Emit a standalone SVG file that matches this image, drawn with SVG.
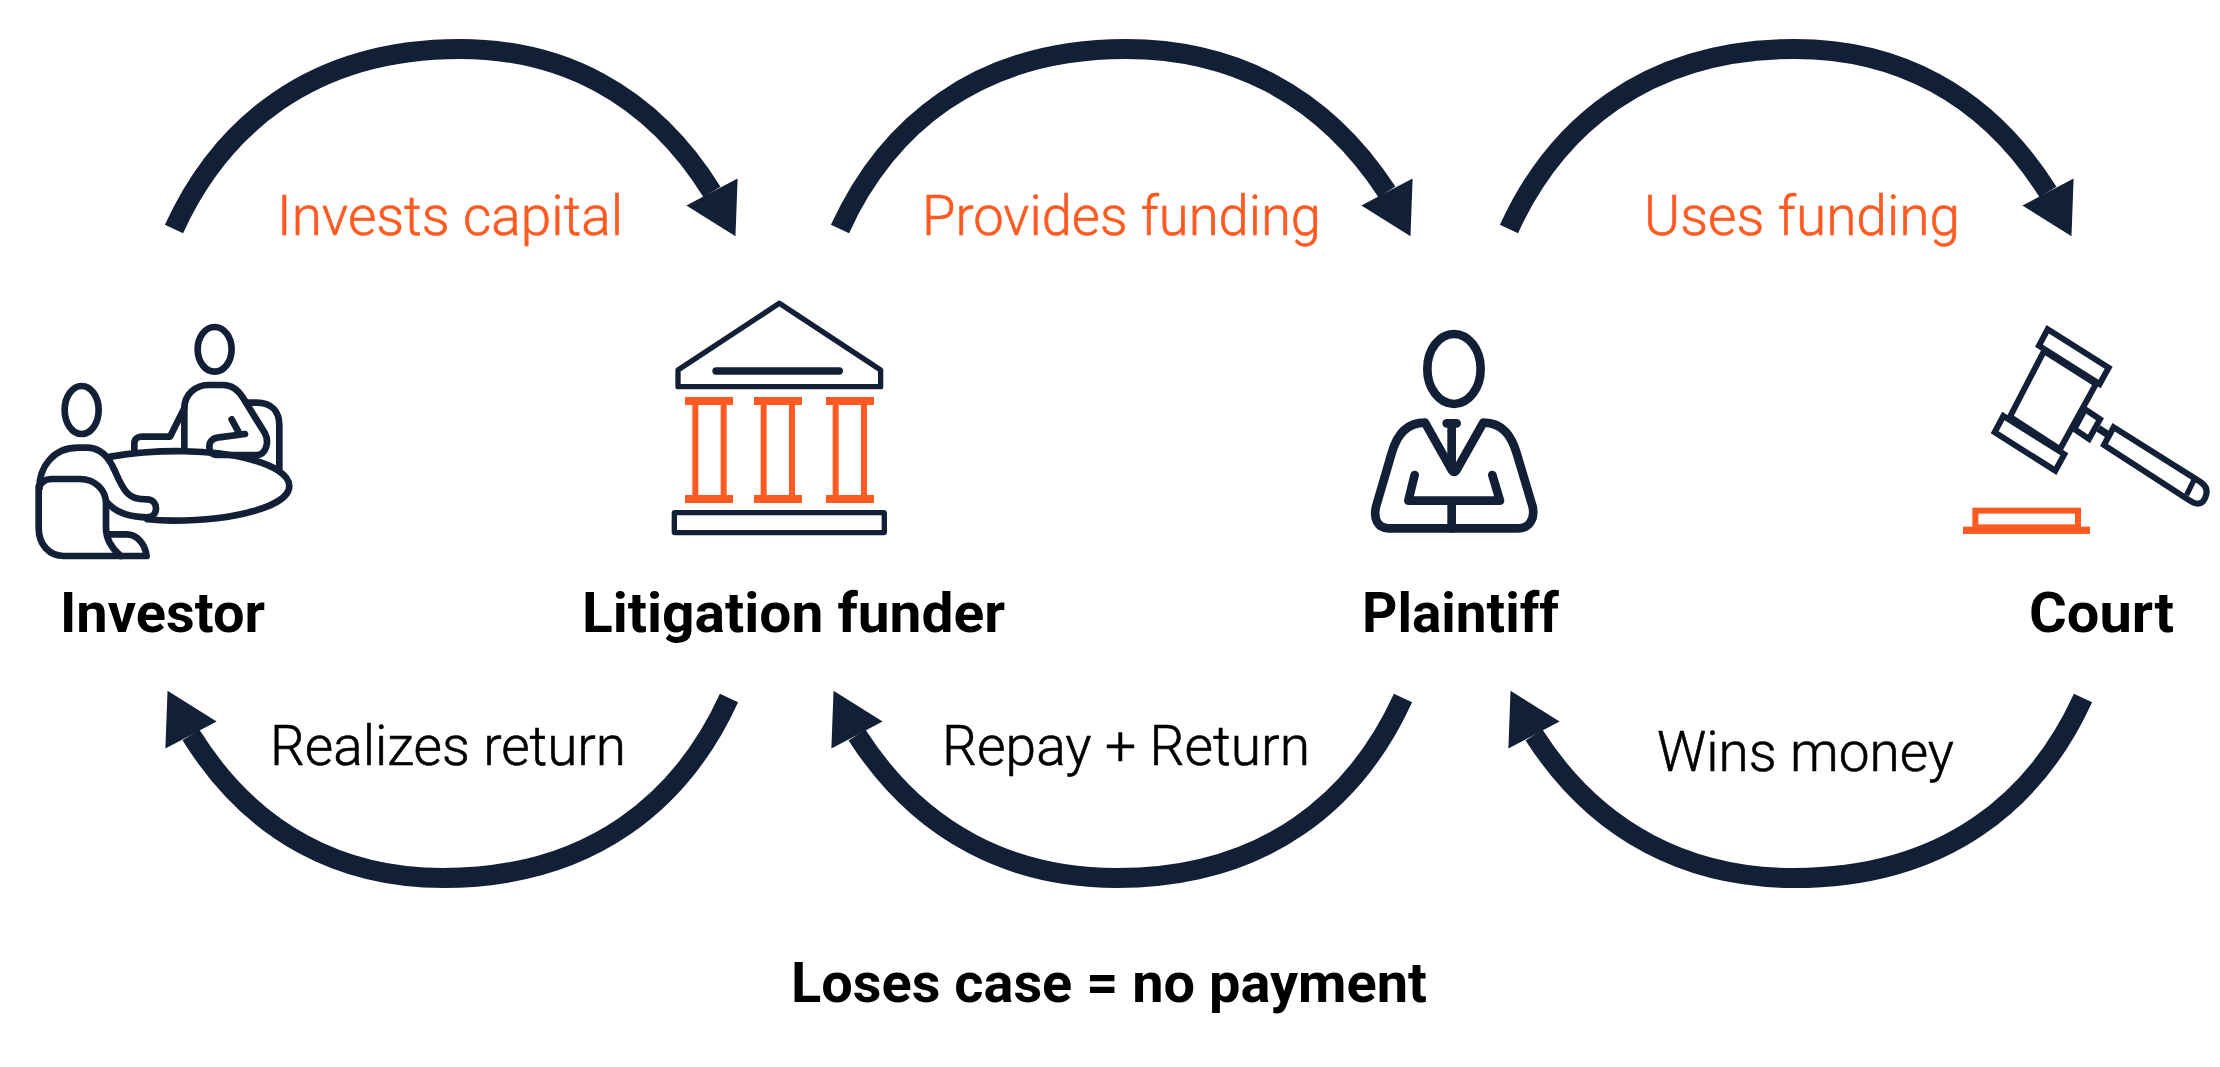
<svg xmlns="http://www.w3.org/2000/svg" width="2220" height="1067" viewBox="0 0 2220 1067">
<style>
.a{fill:none;stroke:#112036;stroke-width:20}
.u{marker-end:url(#hu)}
.d{marker-end:url(#hd)}
.n{fill:none;stroke:#112036;stroke-linecap:round;stroke-linejoin:round}
.o{fill:#ff5a21}
.oo{fill:none;stroke:#ff5a21}
.t{font-family:Roboto,"Liberation Sans",sans-serif;font-size:56px;font-weight:300;stroke-width:.6}
.f{fill:#ff5a21;stroke:#ff5a21}
.k{fill:#000;stroke:#000}
.b{font-family:Roboto,"Liberation Sans",sans-serif;font-size:56px;font-weight:700;fill:#000}
</style>
<defs>
<marker id="hu" markerUnits="userSpaceOnUse" markerWidth="60" markerHeight="60" refX="0" refY="30" orient="62" overflow="visible"><path d="M0 1L50 30L0 59Z" fill="#112036"/></marker>
<marker id="hd" markerUnits="userSpaceOnUse" markerWidth="60" markerHeight="60" refX="0" refY="30" orient="242" overflow="visible"><path d="M0 1L50 30L0 59Z" fill="#112036"/></marker>
</defs>
<rect width="2220" height="1067" fill="#fff"/>
<g id="connectors">
<path class="a u" d="M174 229C220 128 310 49 460 49C560 49 650 92 712 192"/>
<path class="a u" d="M840 229C886 128 976 49 1126 49C1229 49 1322 92 1387 192"/>
<path class="a u" d="M1509 229C1555 128 1645 49 1795 49C1895 49 1985 92 2048 192"/>
<path class="a d" d="M729 698C683 799 593 878 443 878C343 878 253 835 191 735"/>
<path class="a d" d="M1403 698C1357 799 1267 878 1117 878C1014 878 921 835 857 735"/>
<path class="a d" d="M2083 698C2037 799 1947 878 1794 878C1691 878 1598 835 1534 735"/>
</g>
<g id="investor">
<g transform="translate(0 280) scale(.3333)" class="n" stroke-width="20">
<ellipse cx="644" cy="208" rx="51" ry="67"/>
<ellipse cx="245" cy="390" rx="51" ry="72"/>
<path d="M332 530C480 505 640 510 740 535C820 555 868 585 868 618C868 680 700 722 520 722C490 722 460 720 442 718"/>
<path d="M118 625C118 560 160 503 235 503H260C290 503 315 520 332 548C350 580 358 610 378 635C395 655 415 658 440 658C460 658 468 672 468 685C468 700 458 712 442 712C400 712 355 705 322 668"/>
<path d="M118 625C118 610 135 597 155 597H240C285 597 318 630 318 670V745C318 780 335 805 362 828"/>
<path d="M116 620V745C116 795 150 828 190 828H440C435 790 410 763 380 763H325"/>
<path d="M403 510V490C403 478 412 470 425 470H510L553 385"/>
<path d="M553 505V385C553 345 585 315 625 315H670C695 315 715 330 730 355L795 460C810 490 795 525 770 525H650C635 525 628 515 628 500C628 485 638 475 652 473L735 462"/>
<path d="M695 418L718 460"/>
<path d="M745 368H770C815 368 838 395 838 435V570"/>
</g>
</g>
<g id="litigation-funder">
<g transform="translate(640 280) scale(.3333)">
<path class="n" stroke-width="16" d="M418 70L722 270V320H114V270Z"/>
<path class="n" stroke-width="22" d="M228 273H598"/>
<rect class="n" stroke-width="16" x="103" y="698" width="630" height="60" rx="2"/>
<g class="o">
<rect x="135" y="351" width="144" height="24"/><rect x="135" y="645" width="144" height="24"/><rect x="157" y="375" width="18" height="270"/><rect x="242" y="375" width="18" height="270"/>
<rect x="342" y="351" width="144" height="24"/><rect x="342" y="645" width="144" height="24"/><rect x="362" y="375" width="18" height="270"/><rect x="447" y="375" width="18" height="270"/>
<rect x="558" y="351" width="144" height="24"/><rect x="558" y="645" width="144" height="24"/><rect x="578" y="375" width="18" height="270"/><rect x="663" y="375" width="18" height="270"/>
</g>
</g>
</g>
<g id="plaintiff">
<g transform="translate(1340 310) scale(.3333)" class="n" stroke-width="26">
<ellipse cx="342" cy="177" rx="80" ry="105"/>
<path d="M335 655H145C112 655 100 625 108 590L155 430C170 375 200 338 255 338L335 480C340 488 345 488 350 480L430 338C490 338 515 380 530 430L578 590C585 625 570 655 535 655H335"/>
<path d="M320 340H350M335 340V470"/>
<path d="M224 495L205 572H480L457 495M335 572V655"/>
</g>
</g>
<g id="court">
<g transform="translate(1940 310) scale(.3333)">
<g fill="none" stroke="#112036" stroke-width="18" stroke-linejoin="miter">
<path d="M323 58L506 173L479 222L297 107Z"/>
<path d="M190 318L373 433L346 482L164 367Z"/>
<path d="M312 123L468 222L360 418L210 320Z"/>
<path d="M435 298L480 328L447 387L403 357Z"/>
<path d="M475 355L510 378" stroke-width="22"/>
<path d="M521 352L780 515C800 528 805 545 795 565C785 585 768 585 750 572L492 405Z"/>
<path d="M762 510L740 555" stroke-width="16"/>
</g>
<rect class="oo" stroke-width="18" x="106" y="602" width="308" height="50"/>
<rect class="o" x="69" y="650" width="381" height="22"/>
</g>
</g>
<g id="labels">
<text class="t f" x="277" y="235" textLength="346" lengthAdjust="spacingAndGlyphs">Invests capital</text>
<text class="t f" x="922" y="235" textLength="399" lengthAdjust="spacingAndGlyphs">Provides funding</text>
<text class="t f" x="1644" y="235" textLength="316" lengthAdjust="spacingAndGlyphs">Uses funding</text>
<text class="b" x="60" y="632" textLength="205" lengthAdjust="spacingAndGlyphs">Investor</text>
<text class="b" x="582" y="632" textLength="423" lengthAdjust="spacingAndGlyphs">Litigation funder</text>
<text class="b" x="1362" y="632" textLength="197" lengthAdjust="spacingAndGlyphs">Plaintiff</text>
<text class="b" x="2029" y="632" textLength="145" lengthAdjust="spacingAndGlyphs">Court</text>
<text class="t k" x="270" y="765" textLength="356" lengthAdjust="spacingAndGlyphs">Realizes return</text>
<text class="t k" x="942" y="765" textLength="368" lengthAdjust="spacingAndGlyphs">Repay + Return</text>
<text class="t k" x="1657" y="771" textLength="297" lengthAdjust="spacingAndGlyphs">Wins money</text>
<text class="b" x="791" y="1002" textLength="636" lengthAdjust="spacingAndGlyphs">Loses case = no payment</text>
</g>
</svg>
